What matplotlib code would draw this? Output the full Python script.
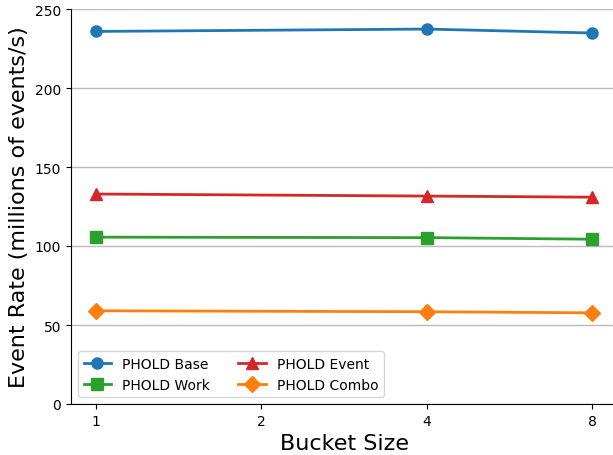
import matplotlib
matplotlib.use("Agg")
import matplotlib.pyplot as plt
import matplotlib.ticker as mticker

bucket_sizes = [1, 4, 8]
tick_values = [1, 2, 4, 8]
tick_labels = ["1", "2", "4", "8"]
base = [235.8, 237.3, 234.8]
work = [105.6, 105.3, 104.3]
event = [132.9, 131.6, 130.9]
combo = [59.0, 58.4, 57.7]

fig = plt.figure(figsize=(6.13, 4.56), dpi=100)
ax = fig.add_axes([71/613, 1-405/456, (617-71)/613, (405-10)/456])

ax.plot(bucket_sizes, base, marker="o", color="#1f77b4", lw=2, ms=8, label="PHOLD Base")
ax.plot(bucket_sizes, work, marker="s", color="#2ca02c", lw=2, ms=8, label="PHOLD Work")
ax.plot(bucket_sizes, event, marker="^", color="#d62728", lw=2, ms=8, label="PHOLD Event")
ax.plot(bucket_sizes, combo, marker="D", color="#ff7f0e", lw=2, ms=8, label="PHOLD Combo")

ax.set_xscale("log", base=2)
ax.set_xticks(tick_values)
ax.set_xticklabels(tick_labels)
ax.xaxis.set_minor_locator(mticker.NullLocator())
ax.set_ylim(0, 250)
ax.set_yticks([0, 50, 100, 150, 200, 250])
ax.yaxis.grid(True, color="#bbbbbb", lw=1)
ax.set_axisbelow(True)
ax.spines["top"].set_visible(False)
ax.spines["right"].set_visible(False)
ax.tick_params(labelsize=10)
ax.set_xlabel("Bucket Size", fontsize=16)
ax.set_ylabel("Event Rate (millions of events/s)", fontsize=16)
ax.legend(loc="lower left", ncol=2, fontsize=10)

fig.savefig("out.png", dpi=100)
